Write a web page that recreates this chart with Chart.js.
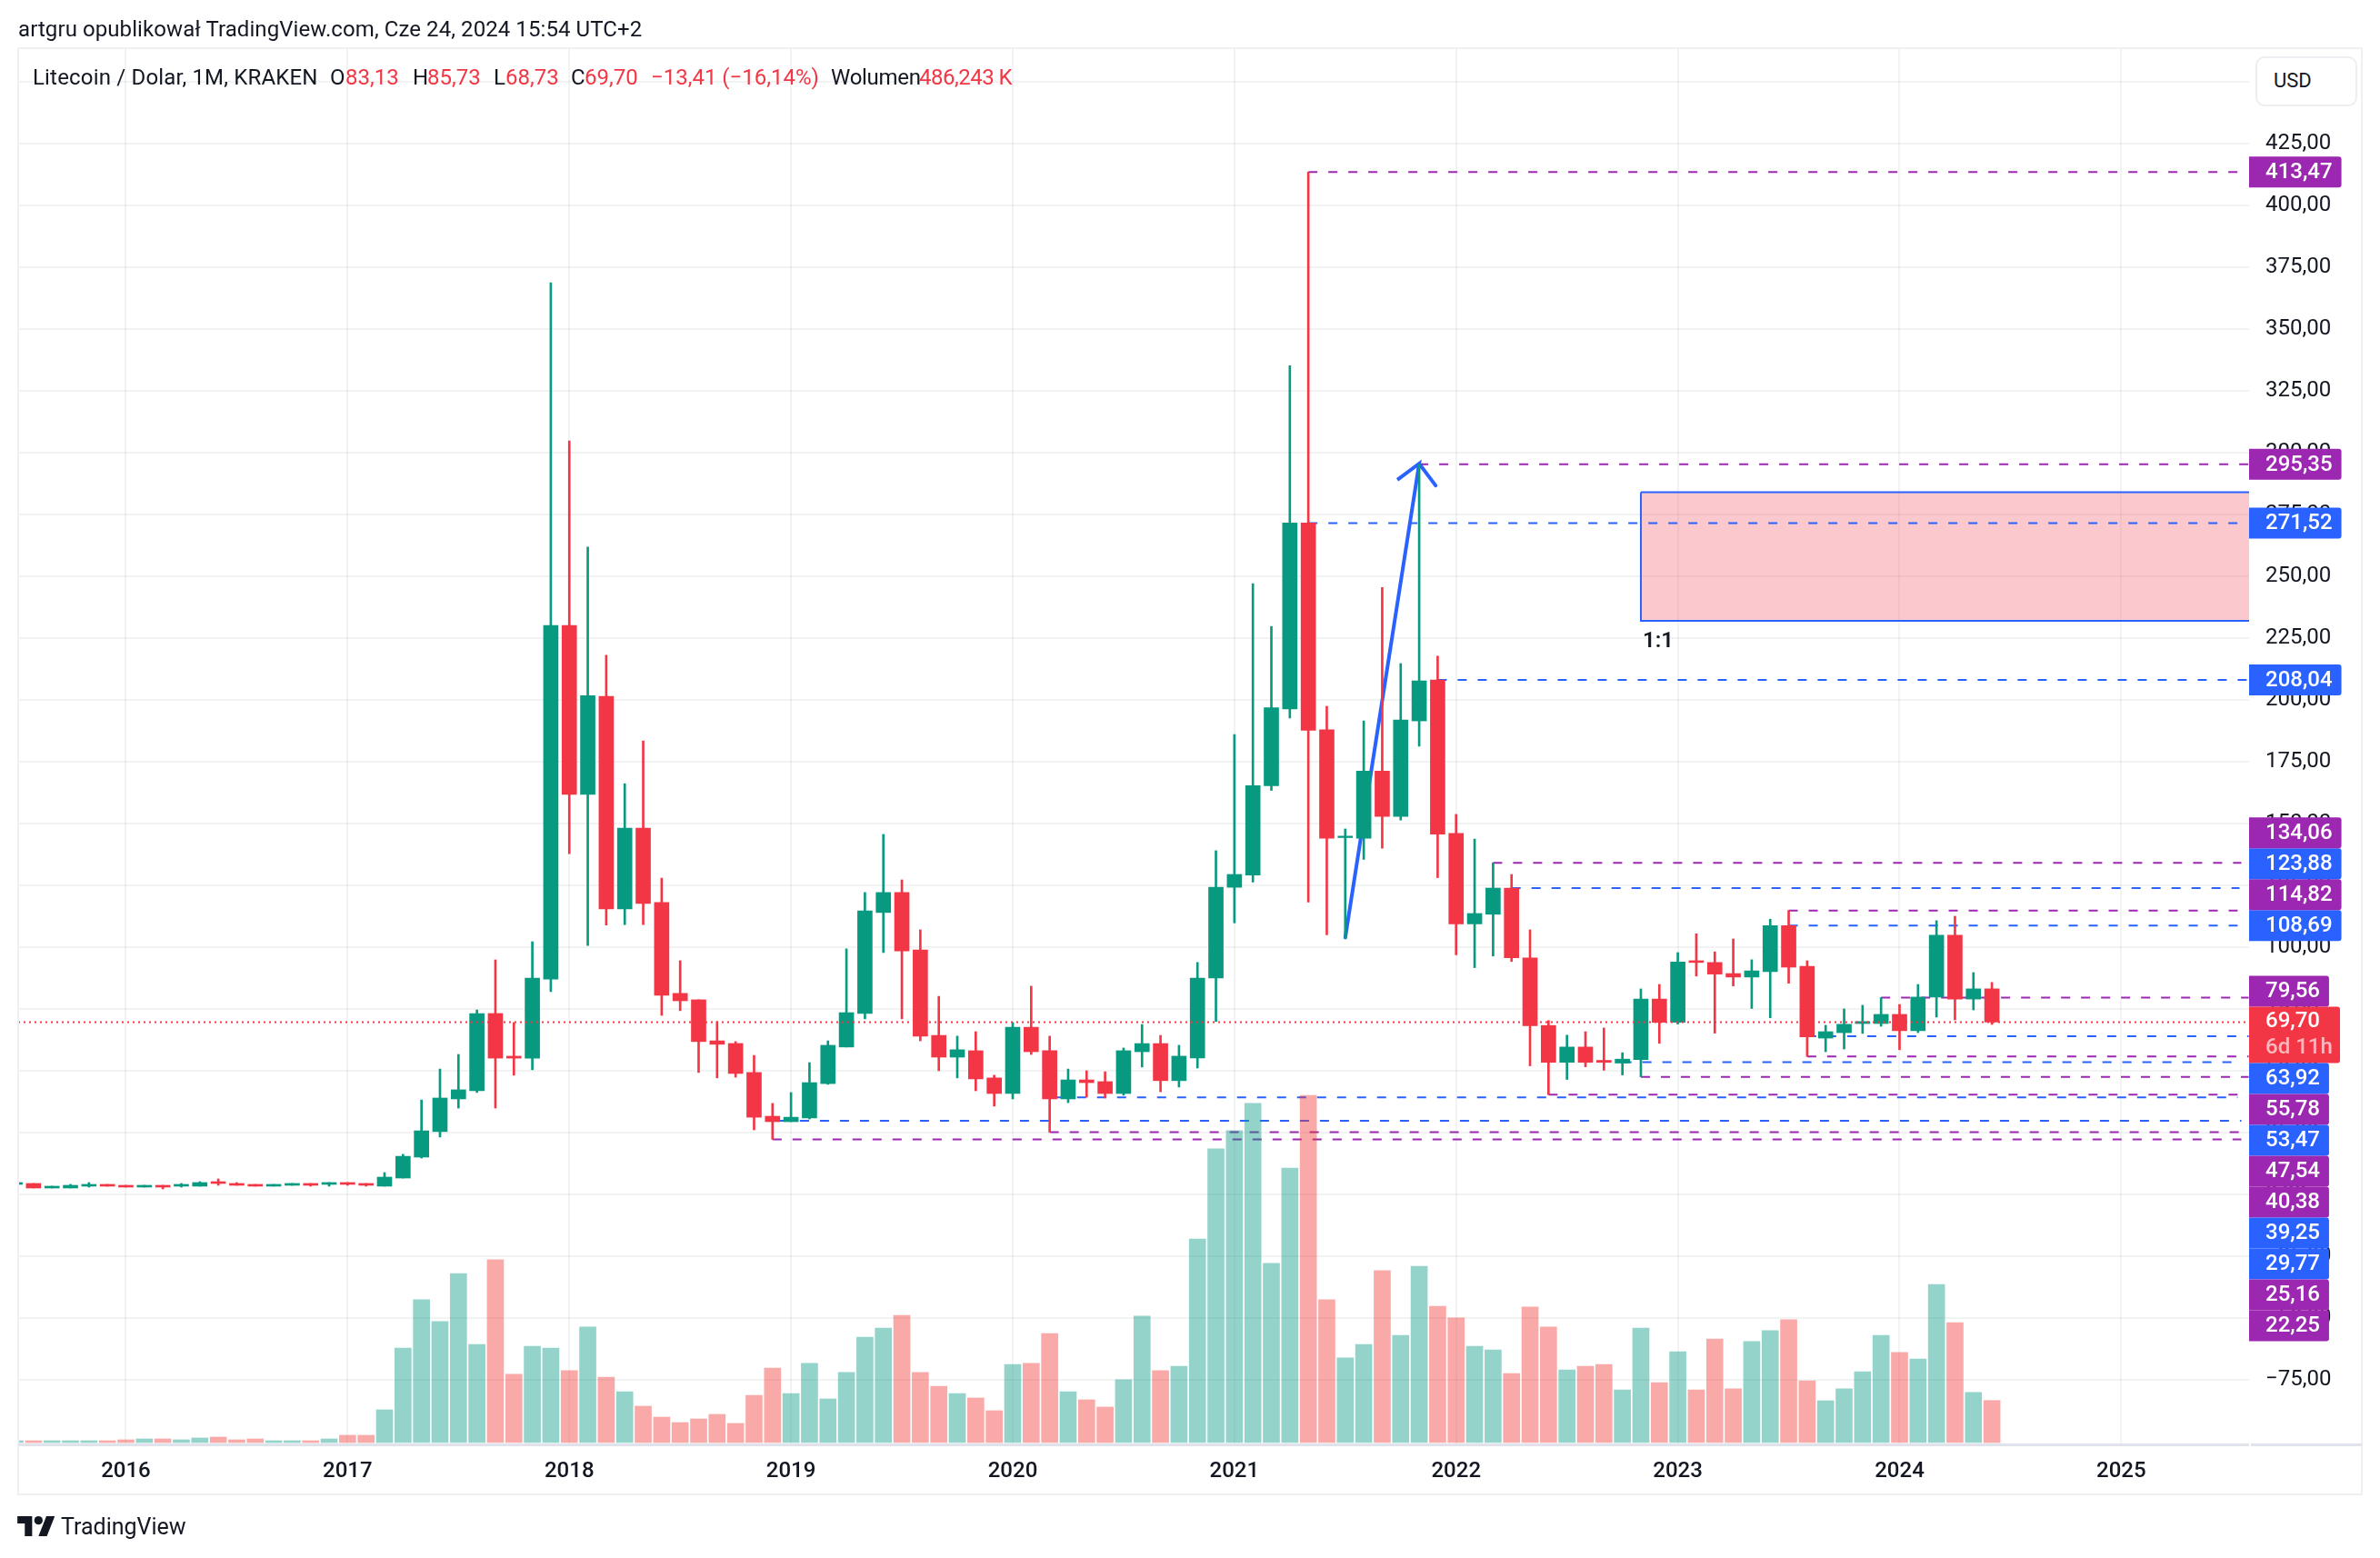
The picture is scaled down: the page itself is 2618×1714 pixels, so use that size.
<!DOCTYPE html>
<html lang="pl">
  <head>
    <meta charset="UTF-8" />
    <title>Litecoin / Dolar, 1M, KRAKEN</title>
    <script src="https://cdn.jsdelivr.net/npm/chart.js"></script>
    <style>
      html, body { margin: 0; padding: 0; background: #fff; }
      body { width: 2618px; height: 1714px; position: relative; overflow: hidden; font-family: Roboto, sans-serif; color: #131722; }
      canvas { position: absolute; left: 0; top: 0; }
      .txt { position: absolute; white-space: nowrap; line-height: 1; }
      .legend { font-size: 24px; top: 73px; }
      .red { color: #f23645; }
      .frame { position: absolute; background: #f0f0f4; }
      .axisline { position: absolute; background: #e0e3eb; height: 3px; top: 1588px; }
      #usd { position: absolute; left: 2481px; top: 62px; width: 108px; height: 51px; border: 2px solid #eeeef2; border-radius: 10px; background: #fff; }
      #usd span { position: absolute; left: 18px; top: 14px; font-size: 22px; line-height: 1; }
    </style>
  </head>
  <body>
    <canvas id="chart" width="2618" height="1714"></canvas>

    <div class="frame" style="left:20px;top:52px;width:2578px;height:2px"></div>
    <div class="frame" style="left:20px;top:1643px;width:2578px;height:2px"></div>
    <div class="frame" style="left:19px;top:52px;width:2px;height:1593px"></div>
    <div class="frame" style="left:2597px;top:52px;width:2px;height:1593px"></div>
    <div class="axisline" style="left:20px;width:2454px"></div>
    <div class="axisline" style="left:2476px;width:122px"></div>

    <div class="txt" style="left:20px;top:20px;font-size:24px;letter-spacing:0.08px">artgru opublikował TradingView.com, Cze 24, 2024 15:54 UTC+2</div>

    <div class="txt legend" style="left:36px;letter-spacing:0.18px">Litecoin / Dolar, 1M, KRAKEN</div>
    <div class="txt legend" style="left:363px">O</div>
    <div class="txt legend red" style="left:380px">83,13</div>
    <div class="txt legend" style="left:454px">H</div>
    <div class="txt legend red" style="left:470px">85,73</div>
    <div class="txt legend" style="left:543px">L</div>
    <div class="txt legend red" style="left:556px">68,73</div>
    <div class="txt legend" style="left:628px">C</div>
    <div class="txt legend red" style="left:643px">69,70</div>
    <div class="txt legend red" style="left:716px">−13,41 (−16,14%)</div>
    <div class="txt legend" style="left:914px;letter-spacing:-0.3px">Wolumen</div>
    <div class="txt legend red" style="left:1011px;letter-spacing:-0.5px">486,243 K</div>

    <div id="usd"><span>USD</span></div>

    <svg style="position:absolute;left:19px;top:1668px" width="42" height="22" viewBox="0 0 36 19" fill="#131722">
      <path d="M14 19H7V7H0V0h14v19zM28 19h-8L27.5 0h8L28 19z" />
      <circle cx="20" cy="4" r="4" />
    </svg>
    <div class="txt" style="left:67px;top:1667px;font-size:25px">TradingView</div>

    <script>
      const months = [
        "2015-07", "2015-08", "2015-09", "2015-10", "2015-11", "2015-12",
        "2016-01", "2016-02", "2016-03", "2016-04", "2016-05", "2016-06", "2016-07", "2016-08", "2016-09", "2016-10", "2016-11", "2016-12",
        "2017-01", "2017-02", "2017-03", "2017-04", "2017-05", "2017-06", "2017-07", "2017-08", "2017-09", "2017-10", "2017-11", "2017-12",
        "2018-01", "2018-02", "2018-03", "2018-04", "2018-05", "2018-06", "2018-07", "2018-08", "2018-09", "2018-10", "2018-11", "2018-12",
        "2019-01", "2019-02", "2019-03", "2019-04", "2019-05", "2019-06", "2019-07", "2019-08", "2019-09", "2019-10", "2019-11", "2019-12",
        "2020-01", "2020-02", "2020-03", "2020-04", "2020-05", "2020-06", "2020-07", "2020-08", "2020-09", "2020-10", "2020-11", "2020-12",
        "2021-01", "2021-02", "2021-03", "2021-04", "2021-05", "2021-06", "2021-07", "2021-08", "2021-09", "2021-10", "2021-11", "2021-12",
        "2022-01", "2022-02", "2022-03", "2022-04", "2022-05", "2022-06", "2022-07", "2022-08", "2022-09", "2022-10", "2022-11", "2022-12",
        "2023-01", "2023-02", "2023-03", "2023-04", "2023-05", "2023-06", "2023-07", "2023-08", "2023-09", "2023-10", "2023-11", "2023-12",
        "2024-01", "2024-02", "2024-03", "2024-04", "2024-05", "2024-06"
      ];
      const opens = [
        4.04, 4.41, 2.57, 2.57, 3.31, 4.04,
        3.67, 2.94, 3.67, 3.31, 3.31, 5.14, 4.41, 4.04, 3.31, 3.67, 4.41, 4.04,
        4.78, 4.41, 3.31, 6.6, 15.07, 25.4, 38.6, 41.9, 73.16, 55.9, 55.1, 87.1,
        230.1, 161.8, 201.4, 115.5, 148.1, 118.1, 81.3, 78.7, 62.1, 61.03, 49.3, 31.6,
        29.4, 30.9, 44.8, 59.6, 73.2, 114, 122.1, 98.9, 64.3, 55.5, 58.1, 47.1,
        40.8, 67.6, 58.1, 38.6, 46.3, 45.6, 40.8, 57.7, 61, 46, 55.2, 87.5,
        124.2, 129.2, 165.3, 196.3, 271.52, 187.9, 144.3, 144, 171.2, 152.9, 191.5, 208.04,
        145.97, 109.4, 113.3, 123.88, 95.6, 68.3, 53.4, 59.6, 54.2, 53.1, 54.5, 79,
        69.6, 94.5, 93.8, 89.3, 87.9, 90.1, 108.69, 92.2, 63.2, 65.4, 69.1, 69.1,
        72.8, 66.2, 79.8, 104.8, 79, 83.13
      ];
      const highs = [
        4.78, 4.41, 3.31, 4.04, 4.78, 4.04,
        3.67, 3.67, 3.67, 4.41, 5.14, 6.25, 4.78, 4.04, 4.04, 4.41, 4.41, 4.78,
        4.78, 4.41, 8.82, 16.2, 38.2, 50.7, 56.6, 74.6, 94.85, 69.5, 102.2, 368.7,
        304.7, 261.8, 218.1, 166.1, 183.4, 127.9, 94.5, 78.7, 69.9, 61.8, 56.2, 36.8,
        41.2, 53.3, 62.1, 99.3, 122.1, 145.6, 127.2, 107, 80.1, 64, 65.8, 48.2,
        69.5, 84.2, 64, 50.7, 50, 49.6, 59.2, 68.7, 64.3, 60.3, 93.8, 139,
        186, 247, 229.7, 335.2, 413.47, 197.4, 147.8, 191.5, 245.5, 214.7, 295.35, 217.7,
        153.7, 143.7, 134.06, 129.4, 107, 70.3, 64.4, 65.8, 67.3, 57.3, 83.1, 84.9,
        97.8, 105.4, 98.1, 103.3, 94.9, 111.3, 114.82, 94.5, 68.4, 75, 76.5, 79.56,
        76.8, 84.9, 110.7, 112.5, 89.7, 85.73
      ];
      const lows = [
        4.04, 2.57, 2.57, 2.57, 2.94, 3.31,
        2.94, 2.94, 2.2, 2.94, 3.31, 3.67, 3.67, 3.31, 3.31, 3.67, 3.31, 3.31,
        3.67, 3.31, 3.31, 6.6, 14.7, 23.2, 34.9, 41.2, 34.9, 48.2, 50.4, 82,
        137.8, 100.7, 108.9, 109.1, 109.1, 72.4, 74.3, 49.3, 47.1, 47.4, 26.1, 22.25,
        29.4, 30.5, 44.5, 59.6, 71, 97.8, 71, 62.1, 50, 47.1, 41.9, 35.7,
        38.6, 56.6, 25.16, 37.1, 39.3, 39, 40.1, 51.5, 41.5, 43.4, 51.1, 69.9,
        109.8, 126.3, 163.4, 192.7, 118.2, 105, 103.5, 135.5, 140, 151.4, 181.3, 128.1,
        96.9, 91.7, 96.4, 94.2, 52, 40.38, 46.5, 51.6, 50.2, 48.3, 47.54, 61.1,
        68.9, 88.3, 65.2, 84.3, 75.2, 71.4, 85.4, 55.78, 57.7, 58.8, 65.1, 68,
        58.5, 65.4, 71.7, 70.6, 74.6, 68.73
      ];
      const closes = [
        4.78, 2.57, 3.31, 3.67, 4.04, 3.31,
        2.94, 3.67, 2.94, 4.04, 4.78, 4.41, 3.67, 3.31, 4.04, 4.41, 3.67, 4.78,
        4.04, 3.67, 6.98, 15.4, 25.7, 38.97, 42.3, 73.16, 55.1, 55.1, 87.5, 230.1,
        161.8, 201.75, 115.5, 148.1, 117.7, 80.5, 78.3, 61.8, 60.7, 48.9, 31.2, 29.4,
        31.2, 45.2, 60.3, 73.5, 114.7, 122.1, 98.5, 64, 55.5, 58.5, 46.7, 40.8,
        67.6, 57.7, 38.6, 46.3, 45.2, 40.8, 58.1, 61, 46, 55.9, 87.5, 124.2,
        129.4, 165.3, 196.8, 271.52, 187.7, 144, 144.9, 171.2, 152.9, 191.9, 207.7, 145.7,
        109.4, 113.6, 123.88, 95.7, 68.2, 53.4, 59.6, 53.4, 53.4, 54.7, 79, 69.6,
        94, 93.8, 89.1, 87.9, 90.4, 108.69, 91.9, 63.7, 65.8, 68.8, 69.9, 72.8,
        66.2, 79.8, 104.8, 79, 83.13, 69.7
      ];
      const volumes = [
        21, 21, 21, 21, 21, 21,
        32, 42, 42, 32, 53, 63, 32, 42, 21, 21, 21, 42,
        84, 84, 378, 1092, 1649, 1397, 1953, 1134, 2111, 788, 1113, 1092,
        830, 1334, 756, 588, 420, 294, 231, 273, 326, 221, 546, 861,
        567, 914, 504, 809, 1218, 1323, 1470, 809, 651, 567, 515, 368,
        903, 914, 1260, 588, 494, 410, 725, 1460, 830, 882, 2352, 3392,
        3602, 3917, 2069, 3171, 4011, 1649, 977, 1134, 1985, 1239, 2037, 1575,
        1439, 1113, 1071, 798, 1565, 1334, 840, 882, 903, 609, 1323, 693,
        1050, 609, 1197, 620, 1166, 1292, 1418, 714, 483, 620, 819, 1239,
        1040, 966, 1827, 1386, 578, 486
      ];

      const priceTicks = [450, 425, 400, 375, 350, 325, 300, 275, 250, 225, 200, 175, 150, 125, 100, 75, 50, 25, 0, -25, -50, -75];
      const yearTicks = [0, 12, 24, 36, 48, 60, 72, 84, 96, 108];
      const yearLabels = ["2016", "2017", "2018", "2019", "2020", "2021", "2022", "2023", "2024", "2025"];

      // poziomy: cena, od którego miesiąca (licząc od 2016-01) i do którego
      const levelPrices = [413.47, 295.35, 271.52, 208.04, 134.06, 123.88, 114.82, 108.69, 79.56, 63.92, 55.78, 53.47, 47.54, 40.38, 39.25, 29.77, 25.16, 22.25];
      const levelStarts = [64, 70, 64, 71, 74, 75, 90, 90, 95, 91, 91, 81, 82, 77, 50.4, 35.4, 50, 35];
      const levelEnds = [114.3, 114.9, 114.3, 114.8, 114.5, 114.4, 114.3, 114.3, 114.9, 114.9, 114.9, 114.3, 114.9, 114.3, 114.3, 114.5, 114.4, 114.5];
      const levelKinds = ["high", "high", "open", "open", "high", "open", "high", "open", "high", "open", "low", "open", "low", "low", "open", "open", "low", "low"];

      const rectMonths = [82, 116];
      const rectPrices = [284, 232];
      const arrowMonths = [66, 70, 68.82, 70, 70.89];
      const arrowPrices = [103.9, 295.6, 289, 295.6, 286.7];

      const lastPrice = 69.7;
      const countdown = "6d 11h";

      const UP = "#089981";
      const DOWN = "#f23645";
      const UP_VOL = "rgba(8, 153, 129, 0.43)";
      const DOWN_VOL = "rgba(240, 56, 50, 0.43)";
      const PURPLE = "#9c27b0";
      const BLUE = "#2962ff";
      const FONT = "Roboto, sans-serif";

      const monthPos = (m) => {
        const parts = m.split("-");
        return (Number(parts[0]) - 2016) * 12 + Number(parts[1]) - 1;
      };
      const xs = months.map(monthPos);
      const isUp = months.map((m, i) => closes[i] >= opens[i]);
      const levelColor = (kind) => (kind === "open" ? BLUE : PURPLE);
      const formatPrice = (v) => v.toFixed(2).replace(".", ",").replace("-", "−");

      const levelDatasets = levelPrices.map((p, i) => ({
        type: "line",
        order: 6,
        data: [
          { x: levelStarts[i], y: p },
          { x: levelEnds[i], y: p },
        ],
        borderColor: levelColor(levelKinds[i]),
        borderWidth: 2,
        borderDash: [10, 12],
        pointRadius: 0,
      }));

      // tagi cenowe po prawej: rozsuwane w górę i w dół od ostatniej ceny
      const priceTags = {
        id: "priceTags",
        afterDraw(chart) {
          const ctx = chart.ctx;
          const scale = chart.scales.y;
          const left = chart.chartArea.right;
          const h = 34;
          const lastTop = scale.getPixelForValue(lastPrice) - 17;
          const lastBottom = lastTop + 62;

          const tag = (top, text, color) => {
            ctx.font = "500 24px " + FONT;
            const w = 18 + ctx.measureText(text).width + 10;
            ctx.fillStyle = color;
            ctx.beginPath();
            ctx.roundRect(left, top, w, h, [0, 3, 3, 0]);
            ctx.fill();
            ctx.fillStyle = "#fff";
            ctx.textAlign = "left";
            ctx.textBaseline = "middle";
            ctx.fillText(text, left + 18, top + h / 2 + 1);
          };

          let limit = lastTop;
          levelPrices.map((p, i) => i).reverse().forEach((i) => {
            if (levelPrices[i] < lastPrice) return;
            const top = Math.min(scale.getPixelForValue(levelPrices[i]) - h / 2, limit - h);
            tag(top, formatPrice(levelPrices[i]), levelColor(levelKinds[i]));
            limit = top;
          });

          ctx.fillStyle = DOWN;
          ctx.beginPath();
          ctx.roundRect(left, lastTop, 100, 62, [0, 3, 3, 0]);
          ctx.fill();
          ctx.font = "500 24px " + FONT;
          ctx.fillStyle = "#fff";
          ctx.textAlign = "left";
          ctx.textBaseline = "middle";
          ctx.fillText(formatPrice(lastPrice), left + 18, lastTop + 17);
          ctx.fillStyle = "rgba(255, 255, 255, 0.65)";
          ctx.fillText(countdown, left + 18, lastTop + 46);

          limit = lastBottom;
          levelPrices.forEach((p, i) => {
            if (p > lastPrice) return;
            const top = Math.max(scale.getPixelForValue(p) - h / 2, limit);
            tag(top, formatPrice(p), levelColor(levelKinds[i]));
            limit = top + h;
          });

          // podpis prostokąta
          ctx.font = "600 24px " + FONT;
          ctx.fillStyle = "#131722";
          ctx.fillText("1:1", chart.scales.x.getPixelForValue(rectMonths[0]) + 2, scale.getPixelForValue(rectPrices[1]) + 23);
        },
      };

      new Chart(document.getElementById("chart"), {
        data: {
          datasets: [
            {
              type: "line",
              order: 7,
              data: [
                { x: rectMonths[0], y: rectPrices[0] },
                { x: rectMonths[1], y: rectPrices[0] },
                { x: rectMonths[1], y: rectPrices[1] },
                { x: rectMonths[0], y: rectPrices[1] },
                { x: rectMonths[0], y: rectPrices[0] },
              ],
              borderColor: BLUE,
              borderWidth: 2,
              backgroundColor: "rgba(242, 54, 69, 0.27)",
              fill: "shape",
              pointRadius: 0,
            },
            {
              type: "line",
              order: 5,
              data: arrowMonths.map((m, i) => ({ x: m, y: arrowPrices[i] })),
              borderColor: BLUE,
              borderWidth: 4,
              borderCapStyle: "round",
              pointRadius: 0,
            },
            ...levelDatasets,
            {
              type: "bar",
              order: 4,
              yAxisID: "vol",
              data: xs.map((x, i) => ({ x: x, y: volumes[i] })),
              backgroundColor: isUp.map((u) => (u ? UP_VOL : DOWN_VOL)),
              barThickness: 18,
              grouped: false,
            },
            {
              type: "bar",
              order: 3,
              data: xs.map((x, i) => ({ x: x, y: [lows[i], highs[i]] })),
              backgroundColor: isUp.map((u) => (u ? UP : DOWN)),
              barThickness: 2,
              grouped: false,
            },
            {
              type: "bar",
              order: 2,
              data: xs.map((x, i) => ({ x: x, y: [Math.min(opens[i], closes[i]), Math.max(opens[i], closes[i])] })),
              backgroundColor: isUp.map((u) => (u ? UP : DOWN)),
              barThickness: 16,
              grouped: false,
            },
            {
              type: "line",
              order: 1,
              data: [
                { x: -5.83, y: lastPrice },
                { x: 114.8, y: lastPrice },
              ],
              borderColor: DOWN,
              borderWidth: 2,
              borderDash: [2, 4],
              pointRadius: 0,
            },
          ],
        },
        plugins: [priceTags],
        options: {
          responsive: false,
          devicePixelRatio: 1,
          animation: false,
          events: [],
          layout: {
            autoPadding: false,
            padding: { left: 20, top: 53, right: 20, bottom: 71 },
          },
          plugins: {
            legend: { display: false },
            tooltip: { enabled: false },
          },
          scales: {
            x: {
              type: "linear",
              offset: false,
              min: -5.83,
              max: 114.92,
              afterBuildTicks: (scale) => {
                scale.ticks = yearTicks.map((v) => ({ value: v }));
              },
              afterFit: (scale) => {
                scale.height = 54;
              },
              grid: { offset: false, color: "rgba(42, 46, 57, 0.06)", lineWidth: 2, drawTicks: false },
              border: { display: false },
              ticks: {
                color: "#131722",
                font: { family: FONT, size: 24, weight: "500" },
                padding: 16,
                maxRotation: 0,
                autoSkip: false,
                callback: (v) => yearLabels[yearTicks.indexOf(v)],
              },
            },
            y: {
              type: "linear",
              position: "right",
              min: -101.12,
              max: 463.6,
              afterBuildTicks: (scale) => {
                scale.ticks = priceTicks.map((v) => ({ value: v }));
              },
              afterFit: (scale) => {
                scale.width = 124;
              },
              grid: { color: "rgba(42, 46, 57, 0.06)", lineWidth: 2, drawTicks: false },
              border: { display: false },
              ticks: {
                color: "#131722",
                font: { family: FONT, size: 24 },
                padding: 18,
                autoSkip: false,
                callback: (v) => (v === 450 ? "" : formatPrice(v)),
              },
            },
            vol: {
              type: "linear",
              display: false,
              min: -21,
              max: 16107,
            },
          },
        },
      });
    </script>
  </body>
</html>
